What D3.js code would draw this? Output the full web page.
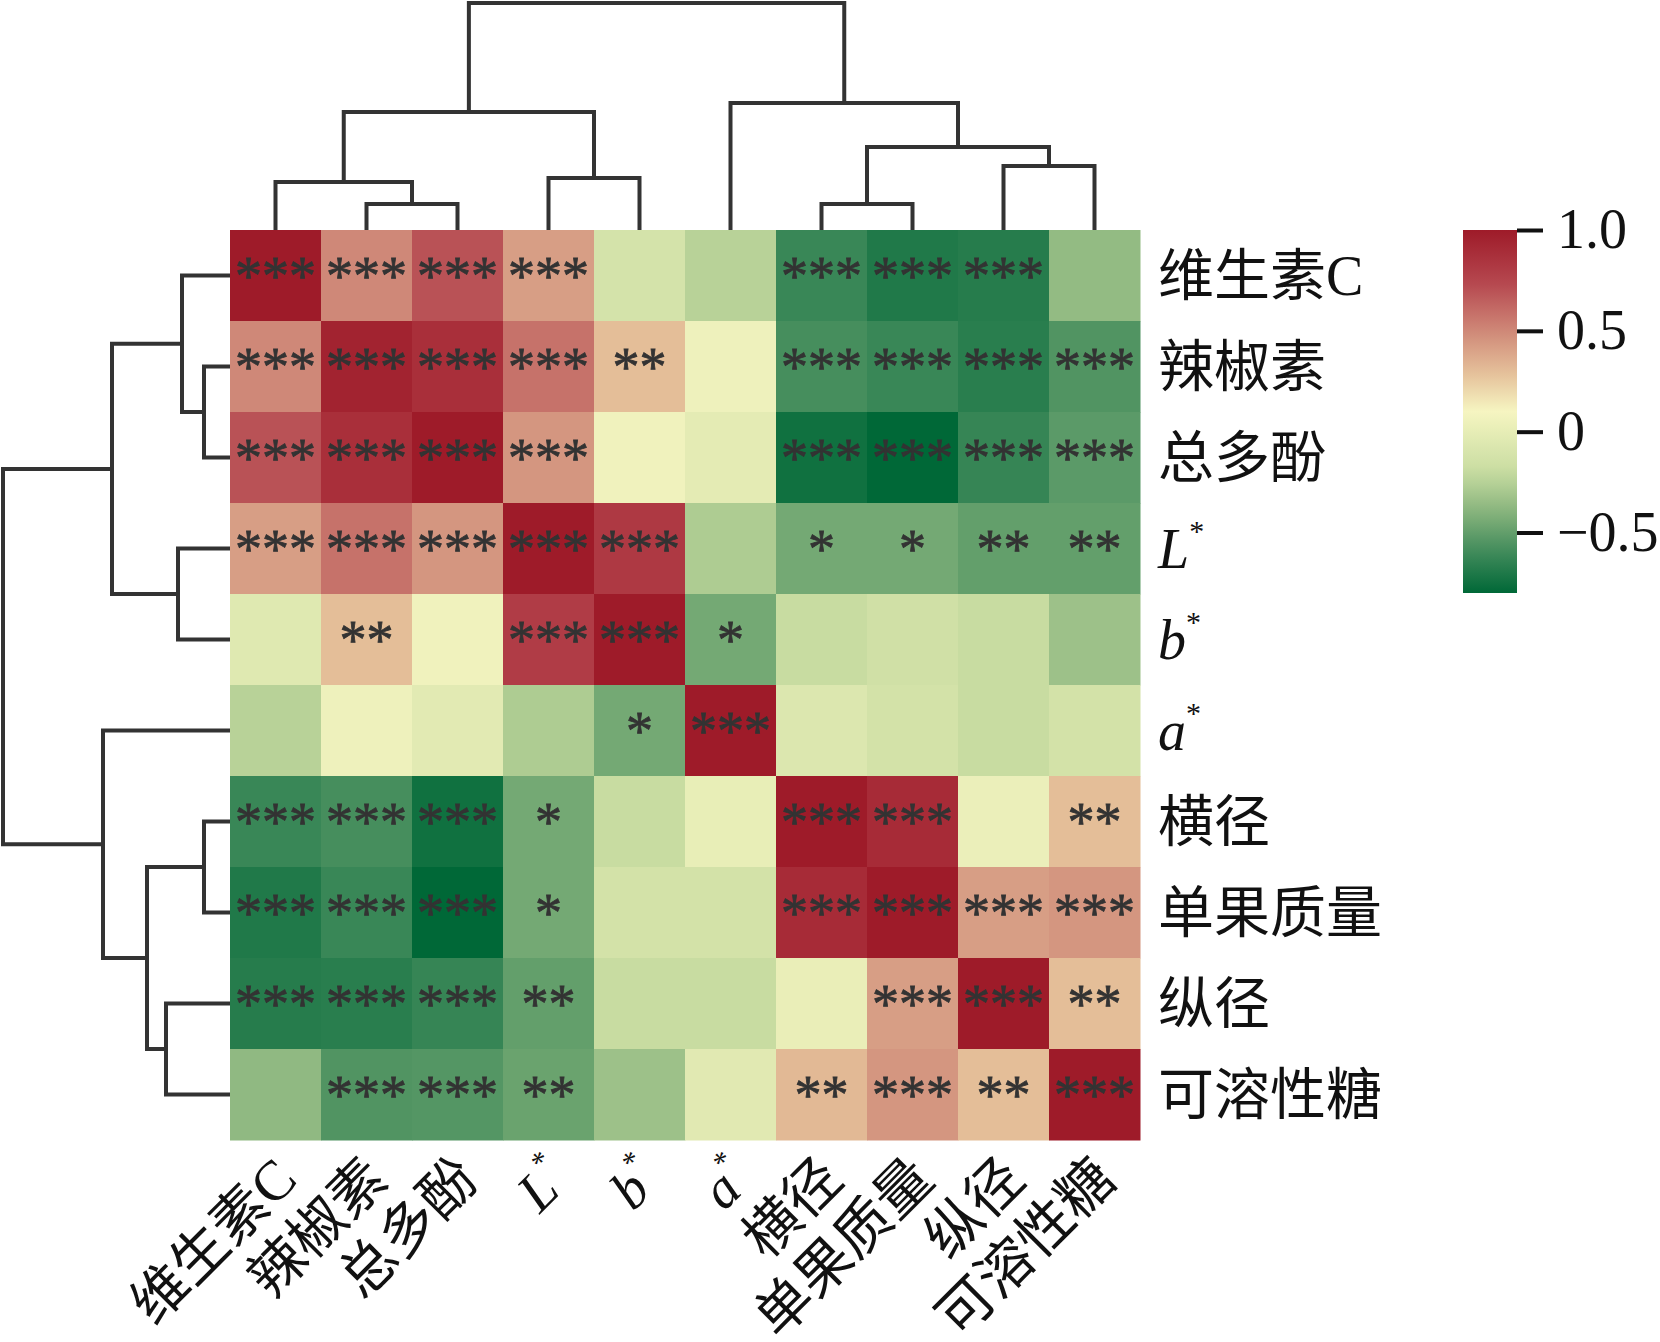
<!DOCTYPE html>
<html>
<head>
<meta charset="utf-8">
<script src="https://cdn.jsdelivr.net/npm/d3@7"></script>
<style>
  body { margin: 0; background: #fff; }
</style>
</head>
<body>
<div id="chart"></div>
<script>
// variables in clustered order (rows and columns are the same)
const labels = ["维生素C", "辣椒素", "总多酚", "L*", "b*", "a*", "横径", "单果质量", "纵径", "可溶性糖"];

const corr = [
    [ 1.00,  0.50,  0.70,  0.42, -0.12, -0.25, -0.62, -0.70, -0.68, -0.36],
    [ 0.50,  0.95,  0.88,  0.58,  0.30,  0.05, -0.58, -0.62, -0.67, -0.55],
    [ 0.70,  0.88,  1.00,  0.45,  0.06, -0.02, -0.75, -0.80, -0.63, -0.52],
    [ 0.42,  0.58,  0.45,  1.00,  0.82, -0.28, -0.45, -0.45, -0.50, -0.50],
    [-0.05,  0.30,  0.06,  0.80,  1.00, -0.45, -0.20, -0.15, -0.20, -0.33],
    [-0.25,  0.05, -0.03, -0.28, -0.45,  1.00, -0.07, -0.13, -0.20, -0.13],
    [-0.62, -0.58, -0.75, -0.45, -0.20,  0.01,  1.00,  0.90,  0.03,  0.30],
    [-0.70, -0.62, -0.80, -0.45, -0.13, -0.13,  0.90,  1.00,  0.42,  0.45],
    [-0.68, -0.67, -0.63, -0.50, -0.20, -0.20,  0.02,  0.42,  1.00,  0.30],
    [-0.37, -0.55, -0.54, -0.48, -0.33, -0.04,  0.32,  0.45,  0.30,  1.00]
];

const sig = [
    ["***", "***", "***", "***", "",    "",    "***", "***", "***", ""],
    ["***", "***", "***", "***", "**",  "",    "***", "***", "***", "***"],
    ["***", "***", "***", "***", "",    "",    "***", "***", "***", "***"],
    ["***", "***", "***", "***", "***", "",    "*",   "*",   "**",  "**"],
    ["",    "**",  "",    "***", "***", "*",   "",    "",    "",    ""],
    ["",    "",    "",    "",    "*",   "***", "",    "",    "",    ""],
    ["***", "***", "***", "*",   "",    "",    "***", "***", "",    "**"],
    ["***", "***", "***", "*",   "",    "",    "***", "***", "***", "***"],
    ["***", "***", "***", "**",  "",    "",    "",    "***", "***", "**"],
    ["",    "***", "***", "**",  "",    "",    "**",  "***", "**",  "***"]
];

// scipy-style linkage: [child a, child b, merge height]; ids >= 10 are earlier merges
const linkage = [
    [1, 2, 0.26],
    [6, 7, 0.26],
    [0, 10, 0.48],
    [3, 4, 0.52],
    [8, 9, 0.64],
    [11, 14, 0.83],
    [12, 13, 1.18],
    [5, 15, 1.27],
    [16, 17, 2.27]
];

const cbTicks = [1.0, 0.5, 0, -0.5];
const cbDomain = [-0.8, 1.0];
const colorStops = [-0.8, -0.6, -0.4, -0.2, 0.1, 0.3, 0.5, 0.75, 1.0];
const colorRange = ["#006837", "#3f8a5a", "#86b37c", "#c8dca1", "#f6f5c1", "#e4be98", "#cf8878", "#b4444d", "#9e1b29"];

const serif = "'Liberation Serif', 'Noto Sans CJK SC', serif";

function renderHeatmap() {
    const W = 1660, H = 1342;
    const grid = {left: 230, top: 230, size: 910};
    const n = labels.length;

    const svg = d3.select("#chart").append("svg")
        .attr("width", W)
        .attr("height", H);

    const x = d3.scaleBand().domain(d3.range(n)).range([grid.left, grid.left + grid.size]);
    const y = d3.scaleBand().domain(d3.range(n)).range([grid.top, grid.top + grid.size]);
    const bw = x.bandwidth();

    const color = d3.scaleLinear()
        .domain(colorStops)
        .range(colorRange)
        .interpolate(d3.interpolateRgb)
        .clamp(true);

    // cells
    const cells = [];
    corr.forEach((row, i) => row.forEach((v, j) => cells.push({i, j, v, s: sig[i][j]})));

    svg.append("g")
        .selectAll("rect")
        .data(cells)
        .enter()
        .append("rect")
        .attr("x", d => x(d.j))
        .attr("y", d => y(d.i))
        .attr("width", bw + 0.5)
        .attr("height", y.bandwidth() + 0.5)
        .attr("fill", d => color(d.v));

    svg.append("g")
        .selectAll("text")
        .data(cells.filter(d => d.s !== ""))
        .enter()
        .append("text")
        .attr("x", d => x(d.j) + bw / 2)
        .attr("y", d => y(d.i) + 64)
        .attr("text-anchor", "middle")
        .style("font-family", serif)
        .style("font-size", "54px")
        .style("fill", "#333")
        .style("stroke", "#333")
        .style("stroke-width", 0.8)
        .text(d => d.s);

    // dendrograms
    const nodes = d3.range(n).map(i => ({c: x(i) + bw / 2, h: 0}));
    linkage.forEach(function (m) {
        nodes.push({c: (nodes[m[0]].c + nodes[m[1]].c) / 2, h: m[2], a: m[0], b: m[1]});
    });
    const maxH = d3.max(linkage, d => d[2]);
    const hTop = d3.scaleLinear().domain([0, maxH]).range([grid.top, 3]);
    const hLeft = d3.scaleLinear().domain([0, maxH]).range([grid.left, 3]);
    // rows use the same order, so map column centre to row centre
    const toRow = c => grid.top + (c - grid.left);

    const merges = nodes.slice(n);
    svg.append("g")
        .selectAll("path")
        .data(merges)
        .enter()
        .append("path")
        .attr("d", function (d) {
            const A = nodes[d.a], B = nodes[d.b];
            return "M" + A.c + "," + hTop(A.h) + "V" + hTop(d.h) + "H" + B.c + "V" + hTop(B.h);
        })
        .attr("fill", "none")
        .attr("stroke", "#333")
        .attr("stroke-width", 4);

    svg.append("g")
        .selectAll("path")
        .data(merges)
        .enter()
        .append("path")
        .attr("d", function (d) {
            const A = nodes[d.a], B = nodes[d.b];
            return "M" + hLeft(A.h) + "," + toRow(A.c) + "H" + hLeft(d.h) + "V" + toRow(B.c) + "H" + hLeft(B.h);
        })
        .attr("fill", "none")
        .attr("stroke", "#333")
        .attr("stroke-width", 4);

    // labels
    function writeLabel(sel, name) {
        if (name.length === 2 && name[1] === "*") {
            sel.append("tspan").style("font-style", "italic").text(name[0]);
            sel.append("tspan").style("font-size", "30px").attr("dy", "-0.9em").text("*");
        } else {
            sel.text(name);
        }
    }

    labels.forEach(function (name, i) {
        const t = svg.append("text")
            .attr("x", grid.left + grid.size + 18)
            .attr("y", y(i) + y.bandwidth() / 2)
            .attr("dy", "0.35em")
            .style("font-family", serif)
            .style("font-size", "56px")
            .style("fill", "#111");
        writeLabel(t, name);

        const b = svg.append("text")
            .attr("transform", "translate(" + (x(i) + bw / 2 + 10) + "," + (grid.top + grid.size + 28) + ") rotate(-45)")
            .attr("dy", "0.35em")
            .attr("text-anchor", "end")
            .style("font-family", serif)
            .style("font-size", "56px")
            .style("fill", "#111");
        writeLabel(b, name);
    });

    // colour bar
    const cb = {x: 1463, w: 54, top: 230, bottom: 593};
    const cbScale = d3.scaleLinear().domain(cbDomain).range([cb.bottom, cb.top]);

    const grad = svg.append("defs").append("linearGradient")
        .attr("id", "cbgrad")
        .attr("x1", 0).attr("y1", 1).attr("x2", 0).attr("y2", 0);
    d3.range(0, 1.0001, 0.05).forEach(function (t) {
        grad.append("stop")
            .attr("offset", t)
            .attr("stop-color", color(cbDomain[0] + t * (cbDomain[1] - cbDomain[0])));
    });

    svg.append("rect")
        .attr("x", cb.x)
        .attr("y", cb.top)
        .attr("width", cb.w)
        .attr("height", cb.bottom - cb.top)
        .attr("fill", "url(#cbgrad)");

    const axis = svg.append("g")
        .attr("transform", "translate(" + (cb.x + cb.w) + ",0)")
        .call(d3.axisRight(cbScale)
            .tickValues(cbTicks)
            .tickSize(26)
            .tickPadding(14)
            .tickFormat(d => d === 0 ? "0" : (d < 0 ? "\u2212" + d3.format(".1f")(-d) : d3.format(".1f")(d))));
    axis.select(".domain").remove();
    axis.selectAll(".tick line").attr("stroke", "#111").attr("stroke-width", 4);
    axis.selectAll(".tick text")
        .style("font-family", serif)
        .style("font-size", "56px")
        .style("fill", "#111");
}

renderHeatmap();
</script>
</body>
</html>
